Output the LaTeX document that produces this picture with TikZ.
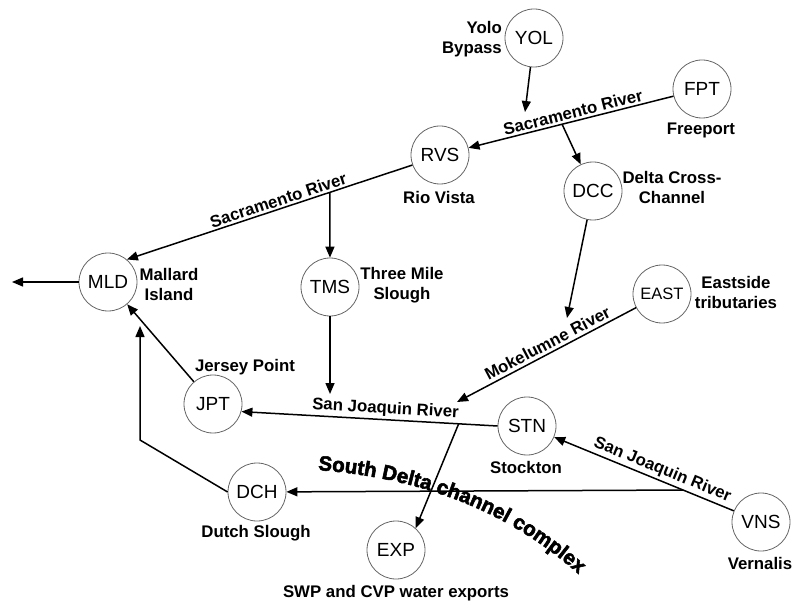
\documentclass[tikz,border=0pt]{standalone}
\usepackage{fontspec}
\setmainfont{Liberation Sans}
\newfontface\heavyfont{Liberation Sans Bold}[FakeBold=2.6]
\newcommand\sdcfont{\heavyfont\fontsize{20.5}{22}\selectfont}
\usetikzlibrary{arrows.meta,calc,decorations.text}

\begin{document}
\begin{tikzpicture}[x=1pt,y=-1pt,
  stn/.style={circle,draw=black!60,line width=0.8pt,minimum size=58pt,inner sep=0pt,
    font=\fontsize{19}{20}\selectfont},
  lbl/.style={font=\fontsize{16.8}{20}\selectfont\bfseries,align=center,inner sep=0pt},
  riv/.style={font=\fontsize{16.8}{20}\selectfont\bfseries,sloped,above,inner sep=2pt},
  flow/.style={line width=1.5pt,-{Triangle[length=11pt,width=9pt]}}]
  \useasboundingbox (0,0) rectangle (793,604);

  % stations
  \node[stn] (YOL) at (534,38) {YOL};
  \node[stn] (FPT) at (702,89) {FPT};
  \node[stn] (RVS) at (440,155) {RVS};
  \node[stn] (DCC) at (593,191) {DCC};
  \node[stn] (MLD) at (108,282) {MLD};
  \node[stn] (TMS) at (330,287) {TMS};
  \node[stn,font=\fontsize{16.5}{18}\selectfont] (EAST) at (662,294) {EAST};
  \node[stn] (JPT) at (213,404) {JPT};
  \node[stn] (STN) at (527,426) {STN};
  \node[stn] (DCH) at (257,492) {DCH};
  \node[stn] (VNS) at (761,522) {VNS};
  \node[stn] (EXP) at (396,550) {EXP};

  % place names
  \node[lbl,align=right,anchor=east] (yolotxt) at (502,39) {Yolo\\Bypass};
  \node[lbl] (fpttxt) at (701,130) {Freeport};
  \node[lbl] (rvstxt) at (439,197) {Rio Vista};
  \node[lbl] (dcctxt) at (672,187) {Delta Cross-\\Channel};
  \node[lbl] (mldtxt) at (169,284) {Mallard\\Island};
  \node[lbl] (tmstxt) at (402,285) {Three Mile\\Slough};
  \node[lbl] (easttxt) at (736,292) {Eastside\\tributaries};
  \node[lbl] (jpttxt) at (245,367) {Jersey Point};
  \node[lbl] (stntxt) at (526,467) {Stockton};
  \node[lbl] (dchtxt) at (256,533) {Dutch Slough};
  \node[lbl] (vnstxt) at (760,563) {Vernalis};
  \node[lbl] (exptxt) at (396,593) {SWP and CVP water exports};

  % free ends
  \coordinate (yolend) at (525,112);
  \coordinate (outflow) at (12,282);
  \coordinate (tmsend) at (330,394);
  \coordinate (mokend) at (457,402);
  \coordinate (dccend) at (567,318);
  \coordinate (dchbend) at (140,440);
  \coordinate (dchend) at (140,326);

  % Sacramento
  \draw[flow] (YOL) -- (yolend);
  \draw[flow] (FPT) -- node[riv,pos=0.48] {Sacramento River} (RVS);
  \coordinate (dccfork) at ($(FPT)!0.534!(RVS)$);
  \draw[flow] (dccfork) -- (DCC);
  \draw[flow] (RVS.200) -- node[riv,pos=0.46] {Sacramento River} (MLD.50);
  \coordinate (tmsfork) at ($(RVS.200)!0.289!(MLD.50)$);
  \draw[flow] (tmsfork) -- (TMS);
  \draw[flow] (MLD) -- (outflow);
  \draw[flow] (TMS) -- (tmsend);

  % San Joaquin
  \draw[flow] (STN.west) -- node[riv,pos=0.44] {San Joaquin River} (JPT.345);
  \coordinate (expfork) at ($(STN.west)!0.152!(JPT.345)$);
  \draw[flow] (expfork) -- (EXP.48);
  \draw[flow] (EAST) -- node[riv,pos=0.47,inner sep=3pt] {Mokelumne River} (mokend);
  \draw[flow] (DCC) -- (dccend);
  \draw[flow] (VNS) -- node[riv,pos=0.42] {San Joaquin River} (STN);
  \coordinate (dchfork) at ($(VNS)!0.333!(STN)$);
  \draw[flow] (dchfork) -- (DCH);
  \draw[flow] (JPT) -- (MLD);
  \draw[flow] (DCH.west) -- (dchbend) -- (dchend);

  \path[decorate,decoration={text along path,
      text={|\sdcfont|South Delta channel complex}}]
    (318,470) .. controls (420,478) and (510,510) .. (585,580);
\end{tikzpicture}
\end{document}
